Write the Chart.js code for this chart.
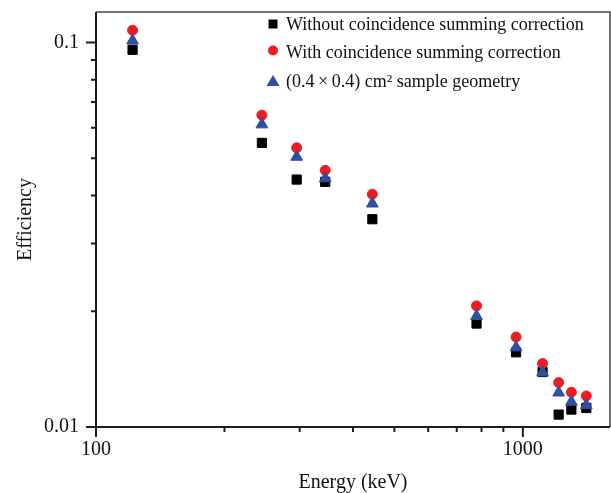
<!DOCTYPE html>
<html>
<head>
<meta charset="utf-8">
<script src="https://cdn.jsdelivr.net/npm/chart.js@4/dist/chart.umd.min.js"></script>
<style>
  html, body { margin: 0; padding: 0; background: #fff; }
  #wrap { width: 611px; height: 493px; }
</style>
</head>
<body>
<div id="wrap"><canvas id="miGrafica" width="611" height="493"></canvas></div>
<script>
"use strict";

// energias de los picos (keV)
let energias = [121.8, 244.7, 295.2, 344.3, 444.0, 778.9, 964.1, 1112.1, 1212.9, 1299.1, 1408.0];

// eficiencias
let sinCorreccion = [0.0957, 0.0548, 0.0440, 0.0434, 0.0347, 0.01858, 0.01564, 0.01390, 0.01077, 0.01110, 0.01121];
let conCorreccion = [0.1076, 0.0647, 0.0532, 0.0465, 0.0403, 0.02065, 0.01714, 0.01462, 0.01305, 0.01231, 0.01204];
let geometria = [0.1011, 0.0612, 0.0504, 0.0443, 0.0381, 0.01943, 0.01610, 0.01386, 0.01229, 0.01163, 0.01140];

let nombres = [
    "Without coincidence summing correction",
    "With coincidence summing correction",
    "(0.4\u2009\u00d7\u20090.4) cm\u00b2 sample geometry"
];

// ejes
let xMin = 100, xMax = 1600;
let yMin = 0.01, yMax = 0.12;
let xEtiquetas = [100, 1000];
let xTextos = ["100", "1000"];
let yEtiquetas = [0.01, 0.1];
let yTextos = ["0.01", "0.1"];
let xMenores = [200, 300, 400, 500, 600, 700, 800, 900];
let yMenores = [0.02, 0.03, 0.04, 0.05, 0.06, 0.07, 0.08, 0.09];

const fuente = "'Liberation Serif', 'Times New Roman', serif";
const negro = "#000000";
const rojo = "#ec1c24";
const azul = "#2f4f9f";

function puntos(ys) {
    return energias.map((e, i) => ({ x: e, y: ys[i] }));
}

// marco y marcas de los ejes
const marcoPlugin = {
    id: "marco",
    afterDraw(chart) {
        const ctx = chart.ctx;
        const a = chart.chartArea;
        const xs = chart.scales.x, ys = chart.scales.y;
        ctx.save();
        ctx.strokeStyle = "#444";
        ctx.lineWidth = 1.5;
        ctx.beginPath();
        ctx.moveTo(a.left, a.top);
        ctx.lineTo(a.right, a.top);
        ctx.lineTo(a.right, a.bottom);
        ctx.stroke();

        ctx.strokeStyle = "#1e1e1e";
        ctx.lineWidth = 2;
        ctx.beginPath();
        ctx.moveTo(a.left, a.top);
        ctx.lineTo(a.left, a.bottom);
        ctx.lineTo(a.right, a.bottom);
        ctx.stroke();

        ctx.beginPath();
        yEtiquetas.forEach(v => { let p = ys.getPixelForValue(v); ctx.moveTo(a.left - 10, p); ctx.lineTo(a.left, p); });
        yMenores.forEach(v => { let p = ys.getPixelForValue(v); ctx.moveTo(a.left - 5, p); ctx.lineTo(a.left, p); });
        xEtiquetas.forEach(v => { let p = xs.getPixelForValue(v); ctx.moveTo(p, a.bottom); ctx.lineTo(p, a.bottom + 10); });
        xMenores.forEach(v => { let p = xs.getPixelForValue(v); ctx.moveTo(p, a.bottom); ctx.lineTo(p, a.bottom + 5); });
        ctx.stroke();
        ctx.restore();
    }
};

// leyenda dentro del area del grafico
const leyendaPlugin = {
    id: "leyenda",
    afterDraw(chart) {
        const ctx = chart.ctx;
        const mx = 273, tx = 286;
        const filas = [24, 52, 81];
        const colores = [negro, rojo, azul];
        ctx.save();
        for (let i = 0; i < 3; i++) {
            let y = filas[i];
            ctx.fillStyle = colores[i];
            ctx.beginPath();
            if (i === 0) {
                ctx.rect(mx - 4.5, y - 4.5, 9, 9);
            } else if (i === 1) {
                ctx.arc(mx, y - 1.5, 5, 0, Math.PI * 2);
            } else {
                ctx.moveTo(mx, y - 6);
                ctx.lineTo(mx + 6.5, y + 5);
                ctx.lineTo(mx - 6.5, y + 5);
                ctx.closePath();
            }
            ctx.fill();
            ctx.fillStyle = "#111";
            ctx.font = "18px " + fuente;
            ctx.textBaseline = "middle";
            ctx.textAlign = "left";
            ctx.fillText(nombres[i], tx, y + 1);
        }
        ctx.restore();
    }
};

const ctx = document.getElementById("miGrafica").getContext("2d");
new Chart(ctx, {
    type: "scatter",
    data: {
        datasets: [
            {
                label: nombres[0],
                data: puntos(sinCorreccion),
                pointStyle: "rect",
                pointRadius: 6.5,
                backgroundColor: negro,
                borderColor: negro,
                borderWidth: 1,
                order: 3
            },
            {
                label: nombres[1],
                data: puntos(conCorreccion),
                pointStyle: "circle",
                pointRadius: 5,
                backgroundColor: rojo,
                borderColor: rojo,
                borderWidth: 1,
                order: 2
            },
            {
                label: nombres[2],
                data: puntos(geometria),
                pointStyle: "triangle",
                pointRadius: 6.8,
                backgroundColor: azul,
                borderColor: azul,
                borderWidth: 1,
                order: 1
            }
        ]
    },
    options: {
        responsive: false,
        animation: false,
        layout: { autoPadding: false, padding: { left: 0, right: 1, top: 12, bottom: 0 } },
        plugins: {
            legend: { display: false },
            tooltip: { enabled: false }
        },
        scales: {
            x: {
                type: "logarithmic",
                min: xMin,
                max: xMax,
                afterBuildTicks: (s) => { s.ticks = xEtiquetas.map(v => ({ value: v })); },
                afterFit: (s) => { s.height = 66; s.paddingLeft = 0; s.paddingRight = 0; },
                grid: { display: false, drawTicks: false },
                border: { display: false },
                ticks: {
                    padding: 11,
                    color: "#111",
                    font: { family: fuente, size: 20 },
                    maxRotation: 0,
                    autoSkip: false,
                    callback: (v) => { let i = xEtiquetas.indexOf(v); return i >= 0 ? xTextos[i] : ""; }
                },
                title: {
                    display: true,
                    text: "Energy (keV)",
                    color: "#111",
                    font: { family: fuente, size: 20, lineHeight: 1 },
                    padding: { top: 0, bottom: 0 }
                }
            },
            y: {
                type: "logarithmic",
                min: yMin,
                max: yMax,
                afterBuildTicks: (s) => { s.ticks = yEtiquetas.map(v => ({ value: v })); },
                afterFit: (s) => { s.width = 96; s.paddingTop = 0; s.paddingBottom = 0; },
                grid: { display: false, drawTicks: false },
                border: { display: false },
                ticks: {
                    padding: 17,
                    color: "#111",
                    font: { family: fuente, size: 20 },
                    autoSkip: false,
                    callback: (v) => { let i = yEtiquetas.indexOf(v); return i >= 0 ? yTextos[i] : ""; }
                },
                title: {
                    display: true,
                    text: "Efficiency",
                    color: "#111",
                    font: { family: fuente, size: 20 },
                    padding: { top: 14, bottom: 0 }
                }
            }
        }
    },
    plugins: [marcoPlugin, leyendaPlugin]
});
</script>
</body>
</html>
